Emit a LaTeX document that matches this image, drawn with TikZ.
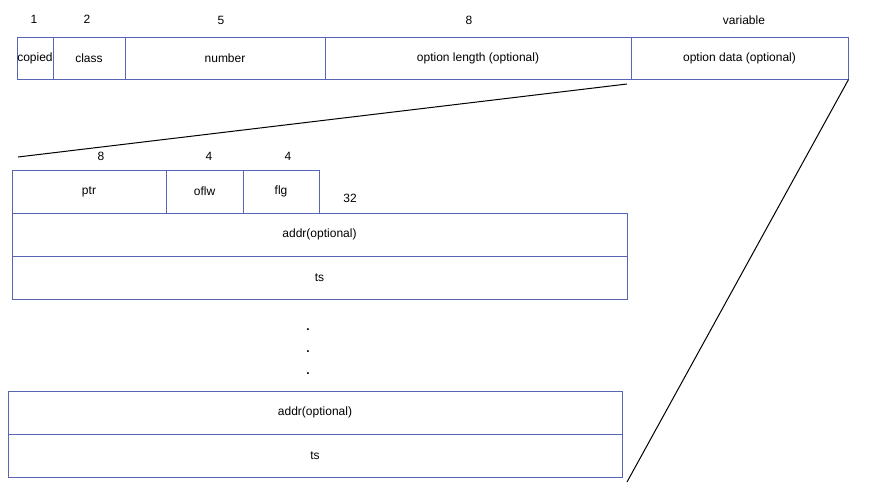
\documentclass[tikz,border=0pt]{standalone}
\usepackage{fontspec}
\setmainfont{Liberation Sans}
\definecolor{boxblue}{RGB}{88,100,182}

\begin{document}
\begin{tikzpicture}[
            x=1pt, y=-1pt,
            field/.style={draw=boxblue, rectangle, line width=1pt, inner sep=0pt, font=\fontsize{12}{14}\selectfont},
            bits/.style={font=\fontsize{12}{14}\selectfont},
            zoom/.style={line width=1pt, black}
        ]

            \useasboundingbox (0,0) rectangle (876,496);

% Top header row
            \node (copied) [field, minimum width=36pt, minimum height=42pt] at (35,58) {copied};
            \node (class) [field, minimum width=72pt, minimum height=42pt] at (89,58) {class};
            \node (number) [field, minimum width=200pt, minimum height=42pt] at (225,58) {number};
            \node (optlen) [field, minimum width=306pt, minimum height=42pt] at (478,58) {option length (optional)};
            \node (optdata) [field, minimum width=217pt, minimum height=42pt] at (739.5,58) {option data (optional)};

% Bit widths of the header row
            \node (wcopied) [bits] at (34,19) {1};
            \node (wclass) [bits] at (87,19) {2};
            \node (wnumber) [bits] at (221,20) {5};
            \node (woptlen) [bits] at (469,20) {8};
            \node (woptdata) [bits] at (744,20) {variable};

% Expanded option data
            \node (ptr) [field, minimum width=154pt, minimum height=43pt] at (89,191.5) {ptr};
            \node (oflw) [field, minimum width=77pt, minimum height=43pt] at (204.5,191.5) {oflw};
            \node (flg) [field, minimum width=76pt, minimum height=43pt] at (281,191.5) {flg};
            \node (addra) [field, minimum width=615pt, minimum height=43pt] at (319.5,234.5) {addr(optional)};
            \node (tsa) [field, minimum width=615pt, minimum height=43pt] at (319.5,277.5) {ts};

            \node (wptr) [bits] at (101,156) {8};
            \node (woflw) [bits] at (209,156) {4};
            \node (wflg) [bits] at (288,156) {4};
            \node (waddr) [bits] at (350,198) {32};

% Dots between the repeated entries
            \node (dota) [bits, anchor=base, inner sep=0pt] at (308,330) {\bfseries .};
            \node (dotb) [bits, anchor=base, inner sep=0pt] at (308,352) {\bfseries .};
            \node (dotc) [bits, anchor=base, inner sep=0pt] at (308,374) {\bfseries .};

% Last entry
            \node (addrb) [field, minimum width=614pt, minimum height=43pt] at (315,412.5) {addr(optional)};
            \node (tsb) [field, minimum width=614pt, minimum height=43pt] at (315,455.5) {ts};

% Zoom lines from the option data field
            \coordinate (zoomtop) at (627,84);
            \coordinate (zoomleft) at (18,157);
            \coordinate (zoombottom) at (627,482);

            \draw [zoom] (zoomtop) -- (zoomleft);
            \draw [zoom] (optdata.south east) -- (zoombottom);

        \end{tikzpicture}
\end{document}
